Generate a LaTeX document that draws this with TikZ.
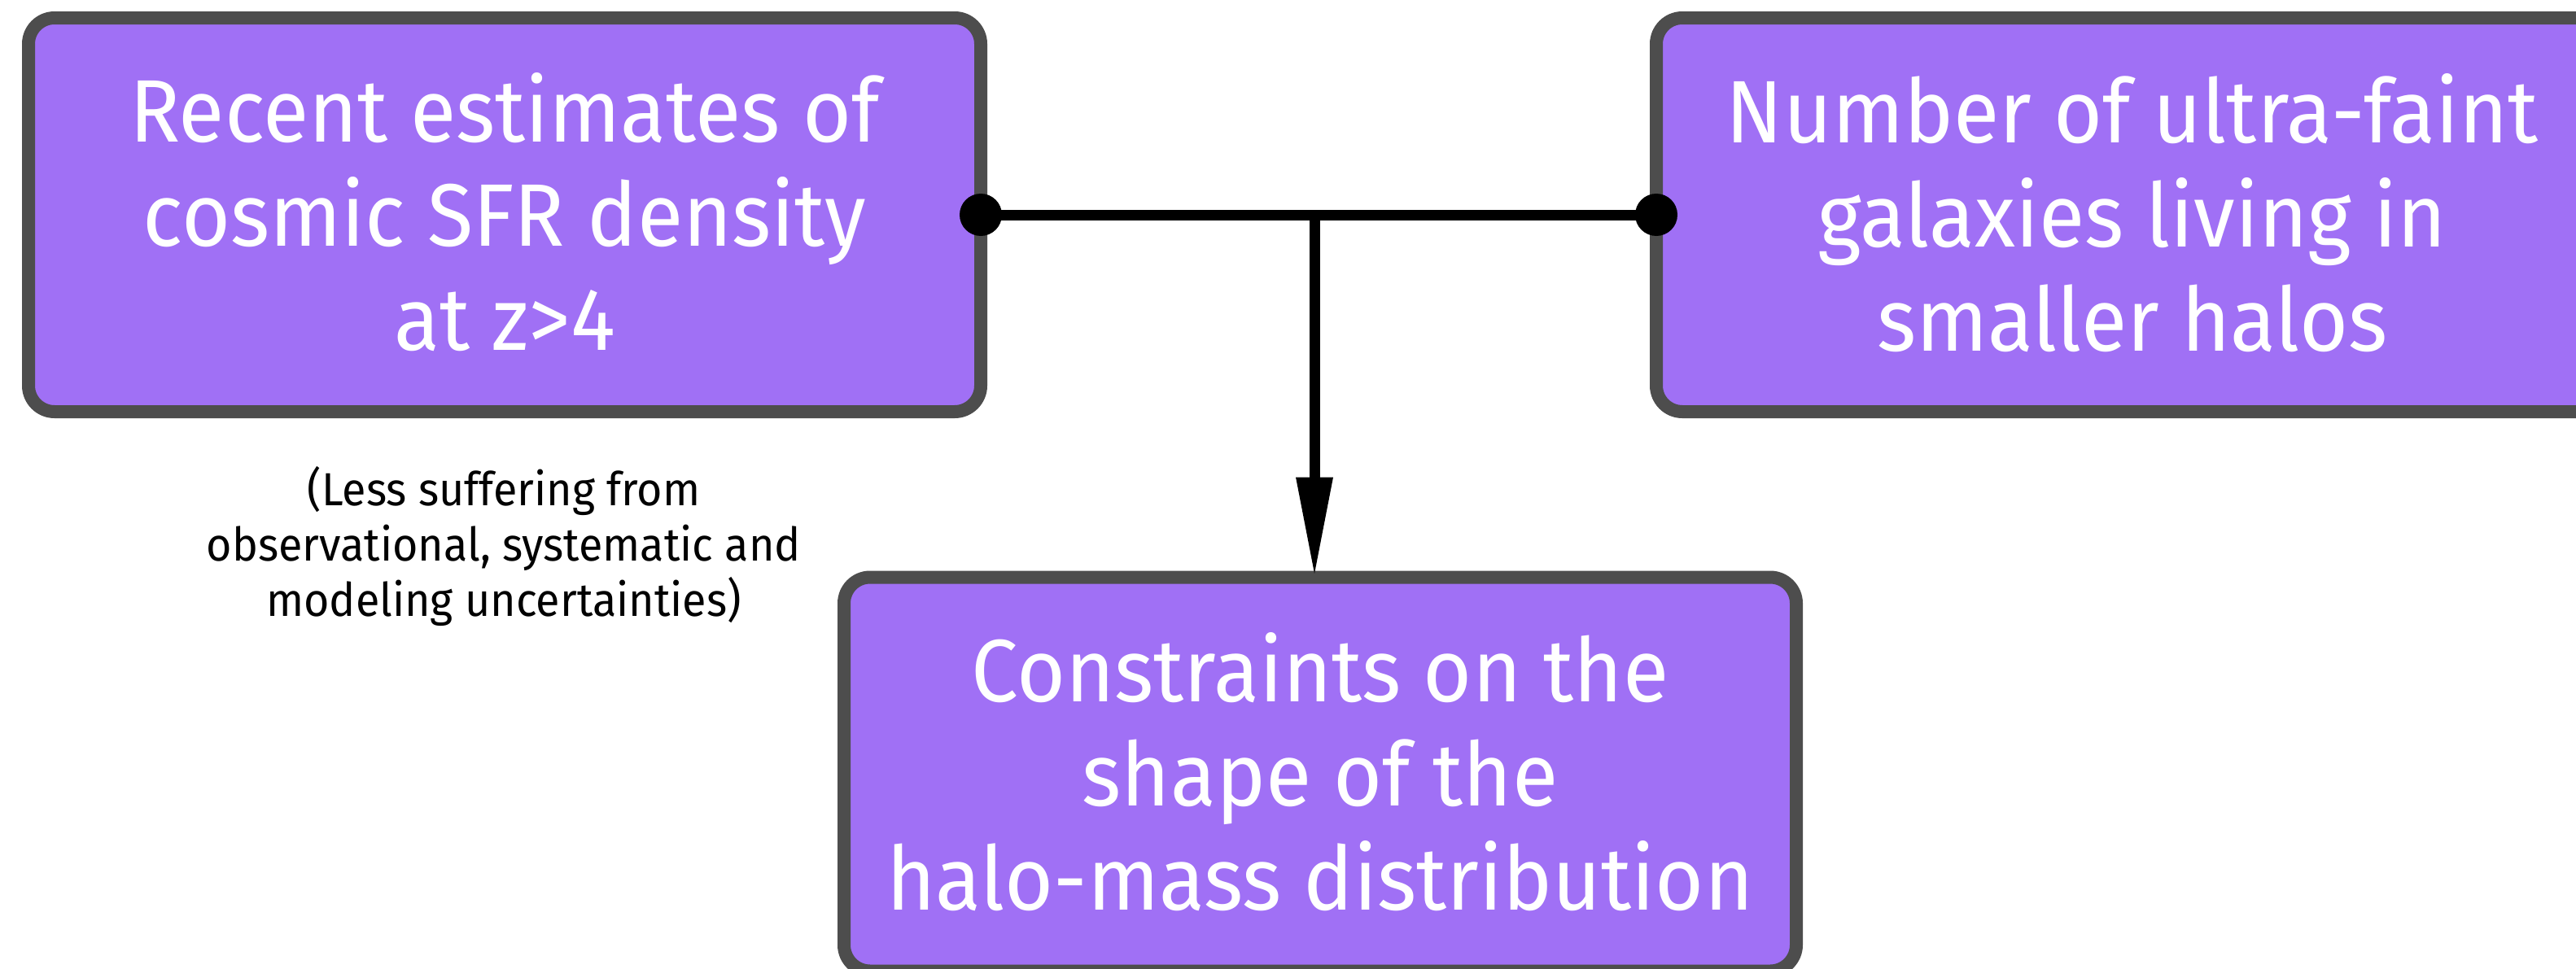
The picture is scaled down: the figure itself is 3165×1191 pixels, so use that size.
\documentclass[tikz,border=0pt]{standalone}
\usepackage{fontspec}
\setmainfont{Fira Sans}[FakeStretch=0.945]
\usetikzlibrary{arrows.meta}
\definecolor{boxfill}{HTML}{A070F5}
\definecolor{boxline}{HTML}{4D4D4D}
\tikzset{
  card/.style={rectangle, rounded corners=32pt, minimum width=1170pt,
    minimum height=484pt, line width=16pt, draw=boxline, fill=boxfill,
    outer sep=0pt, inner sep=0pt},
  % base anchor of a multi-line node sits on its last line
  cardtext/.style={anchor=base, align=center, text=white, inner sep=0pt,
    font=\fontsize{109pt}{128pt}\selectfont},
  note/.style={anchor=base, align=center, text=black, inner sep=0pt,
    font=\fontsize{57pt}{68pt}\selectfont},
  link/.style={line width=13pt, draw=black},
  joint/.style={circle, fill=black, minimum size=52pt, inner sep=0pt}
}
\begin{document}
\begin{tikzpicture}[x=1pt, y=-1pt]
  \useasboundingbox (0,0) rectangle (3165,1191);
  \clip (0,0) rectangle (3165,1191);

  % the three boxes
  \node[card] (sfr) at (620,264) {};
  \node[card] (ufg) at (2620,264) {};
  \node[card] (hmd) at (1622,951.5) {};

  \node[cardtext] (sfrtxt) at (620,430)
    {Recent estimates of\\cosmic SFR density\\at z>4};
  \node[cardtext] (ufgtxt) at (2620,431)
    {Number of ultra-faint\\galaxies living in\\smaller halos};
  \node[cardtext] (hmdtxt) at (1622,1118.5)
    {Constraints on the\\shape of the\\halo-mass distribution};

  % remark under the left box
  \node[note] (remark) at (619,757)
    {(Less suffering from\\observational, systematic and\\modeling uncertainties)};

  % joining bar and arrow
  \draw[link] (sfr.east) -- coordinate[pos=0.494] (split) (ufg.west);
  \draw[link, -{Triangle[length=123pt, width=42pt]}] (split) -- (split |- hmd.north);
  \node[joint] (jl) at (sfr.east) {};
  \node[joint] (jr) at (ufg.west) {};
\end{tikzpicture}
\end{document}
